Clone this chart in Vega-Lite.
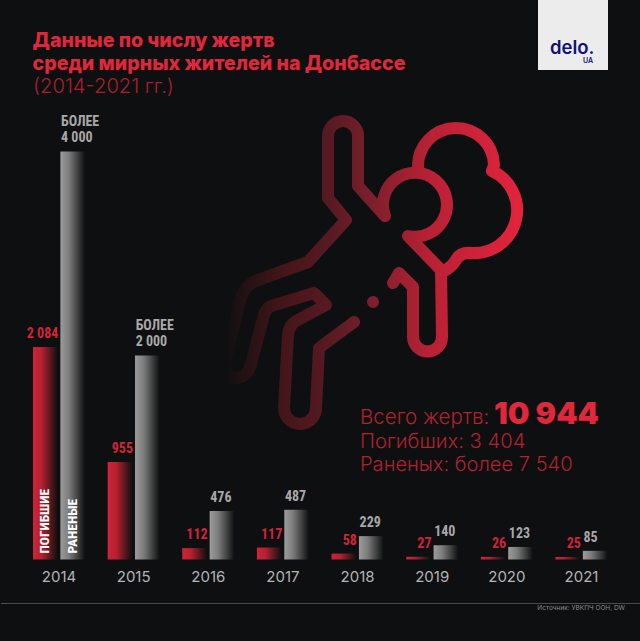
{
  "$schema": "https://vega.github.io/schema/vega-lite/v6.json",
  "width": 640,
  "height": 641,
  "padding": 0,
  "autosize": {"type": "fit", "contains": "padding"},
  "background": "#0e0f10",
  "view": {"stroke": null},
  "data": {"name": "main", "values": [
    {"year": "2014", "kind": "Погибшие", "value": 2084, "label": "2 084", "inside": "ПОГИБШИЕ"},
    {"year": "2014", "kind": "Раненые", "value": 4000, "label": "4 000", "more": "БОЛЕЕ", "inside": "РАНЕНЫЕ"},
    {"year": "2015", "kind": "Погибшие", "value": 955, "label": "955"},
    {"year": "2015", "kind": "Раненые", "value": 2000, "label": "2 000", "more": "БОЛЕЕ"},
    {"year": "2016", "kind": "Погибшие", "value": 112, "label": "112"},
    {"year": "2016", "kind": "Раненые", "value": 476, "label": "476"},
    {"year": "2017", "kind": "Погибшие", "value": 117, "label": "117"},
    {"year": "2017", "kind": "Раненые", "value": 487, "label": "487"},
    {"year": "2018", "kind": "Погибшие", "value": 58, "label": "58"},
    {"year": "2018", "kind": "Раненые", "value": 229, "label": "229"},
    {"year": "2019", "kind": "Погибшие", "value": 27, "label": "27"},
    {"year": "2019", "kind": "Раненые", "value": 140, "label": "140"},
    {"year": "2020", "kind": "Погибшие", "value": 26, "label": "26"},
    {"year": "2020", "kind": "Раненые", "value": 123, "label": "123"},
    {"year": "2021", "kind": "Погибшие", "value": 25, "label": "25"},
    {"year": "2021", "kind": "Раненые", "value": 85, "label": "85"}
  ]},
  "encoding": {
    "x": {"field": "year", "type": "nominal", "sort": null,
      "scale": {"range": [32, 606.5], "paddingInner": 0.303, "paddingOuter": 0},
      "axis": {"title": null, "orient": "bottom", "offset": -72, "ticks": false, "domain": false, "labelAngle": 0, "labelColor": "#b4b4b4", "labelFont": "Inter", "labelFontSize": 15, "labelPadding": 0, "grid": false}},
    "y": {"field": "value", "type": "quantitative",
      "scale": {"domain": [-799, 5485], "nice": false, "zero": false},
      "axis": null},
    "xOffset": {"field": "kind", "type": "nominal", "scale": {"domain": ["Погибшие", "Раненые"], "paddingInner": 0.1, "paddingOuter": 0}}
  },
  "layer": [
    {"transform": [{"filter": "datum.kind === 'Погибшие'"}],
     "mark": {"type": "bar", "color": {"gradient": "linear", "x1": 0, "x2": 1, "y1": 0, "y2": 0, "stops": [{"offset": 0, "color": "#cf2338"}, {"offset": 0.35, "color": "#b5212f"}, {"offset": 1, "color": "#0e0f10"}]}}},
    {"transform": [{"filter": "datum.kind === 'Раненые'"}],
     "mark": {"type": "bar", "color": {"gradient": "linear", "x1": 0, "x2": 1, "y1": 0, "y2": 0, "stops": [{"offset": 0, "color": "#9c9c9c"}, {"offset": 0.35, "color": "#7c7c7c"}, {"offset": 1, "color": "#0e0f10"}]}}},
    {"transform": [{"filter": "datum.kind === 'Погибшие'"}],
     "mark": {"type": "text", "align": "right", "baseline": "bottom", "dx": 13, "dy": -6, "font": "Roboto Condensed, Liberation Sans", "fontWeight": "bold", "fontSize": 14, "color": "#d3243a"},
     "encoding": {"text": {"field": "label"}}},
    {"transform": [{"filter": "datum.kind === 'Раненые'"}],
     "mark": {"type": "text", "align": "left", "baseline": "bottom", "dx": -11.7, "dy": -6, "font": "Roboto Condensed, Liberation Sans", "fontWeight": "bold", "fontSize": 14, "color": "#a8a8a8"},
     "encoding": {"text": {"field": "label"}}},
    {"transform": [{"filter": "isValid(datum.more)"}],
     "mark": {"type": "text", "align": "left", "baseline": "bottom", "dx": -11.7, "dy": -22, "font": "Roboto Condensed, Liberation Sans", "fontWeight": "bold", "fontSize": 14, "color": "#a8a8a8"},
     "encoding": {"text": {"field": "more"}}},
    {"transform": [{"filter": "isValid(datum.inside)"}],
     "mark": {"type": "text", "angle": 270, "align": "left", "baseline": "middle", "dx": 6, "font": "Roboto Condensed, Liberation Sans", "fontWeight": "bold", "fontSize": 13.5, "color": "#ffffff"},
     "encoding": {"text": {"field": "inside"}, "y": {"datum": 0}}},
    {"data": {"values": [{"name": "Контур тела"}]},
     "encoding": {"x": {"value": 0}, "y": {"value": 0}, "xOffset": null},
     "mark": {"type": "point", "opacity": 1, "size": 4, "filled": false, "strokeWidth": 12, "strokeCap": "round", "strokeJoin": "round",
       "shape": "M384 216 L357 186 L357 136 A15 15 0 0 0 327 136 L327 198 L345 220 L307 262 L257 280 Q245 284 240 297 L225 358 C222 372 230 378 235 378 C243 378 248 372 250 364 L263 315 Q265 308 270 306 L313 293 L325 305 L295 321 Q288 325 287 335 L283 408 A16 16 0 0 0 315 408 L318 348 L353 322 M384 216 A32 32 0 1 1 407 236 L440 270 L441 337 A14.5 14.5 0 0 1 412 337 L412 287 L398 273 L392 283 M417 167 A38 38 0 1 1 493 165 L491 171 A43 43 0 0 1 470 253 Q459 252 455 260 Q450 268 441 272 M372 302 L372.01 302",
       "stroke": {"gradient": "linear", "x1": 0, "y1": 0, "x2": 1, "y2": 0, "stops": [{"offset": 0, "color": "#0e0f10"}, {"offset": 0.05, "color": "#1e1113"}, {"offset": 0.2, "color": "#441619"}, {"offset": 0.36, "color": "#581a22"}, {"offset": 0.47, "color": "#741e2a"}, {"offset": 0.7, "color": "#b82135"}, {"offset": 1, "color": "#e0243c"}]}}},
    {"data": {"values": [{"t": "Данные по числу жертв"}]},
     "encoding": {"x": {"value": 31.5}, "y": {"value": 41}, "xOffset": null, "text": {"field": "t"}},
     "mark": {"type": "text", "align": "left", "baseline": "middle", "font": "Inter", "fontWeight": 800, "fontSize": 19.6, "color": "#e0273c"}},
    {"data": {"values": [{"t": "среди мирных жителей на Донбассе"}]},
     "encoding": {"x": {"value": 31.5}, "y": {"value": 64}, "xOffset": null, "text": {"field": "t"}},
     "mark": {"type": "text", "align": "left", "baseline": "middle", "font": "Inter", "fontWeight": 800, "fontSize": 19.6, "color": "#e0273c"}},
    {"data": {"values": [{"t": "(2014-2021 гг.)"}]},
     "encoding": {"x": {"value": 32}, "y": {"value": 87}, "xOffset": null, "text": {"field": "t"}},
     "mark": {"type": "text", "align": "left", "baseline": "middle", "font": "Inter", "fontWeight": 300, "fontSize": 20.2, "color": "#a8202f"}},
    {"data": {"values": [{"t": "Всего жертв:"}]},
     "encoding": {"x": {"value": 359}, "y": {"value": 418}, "xOffset": null, "text": {"field": "t"}},
     "mark": {"type": "text", "align": "left", "baseline": "middle", "font": "Inter", "fontWeight": 300, "fontSize": 20.5, "color": "#b02230"}},
    {"data": {"values": [{"t": "10 944"}]},
     "encoding": {"x": {"value": 493}, "y": {"value": 414.5}, "xOffset": null, "text": {"field": "t"}},
     "mark": {"type": "text", "align": "left", "baseline": "middle", "font": "Inter", "fontWeight": 900, "fontSize": 30.5, "color": "#e0273c"}},
    {"data": {"values": [{"t": "Погибших: 3 404"}]},
     "encoding": {"x": {"value": 359}, "y": {"value": 442}, "xOffset": null, "text": {"field": "t"}},
     "mark": {"type": "text", "align": "left", "baseline": "middle", "font": "Inter", "fontWeight": 300, "fontSize": 20.2, "color": "#b02230"}},
    {"data": {"values": [{"t": "Раненых: более 7 540"}]},
     "encoding": {"x": {"value": 359}, "y": {"value": 465}, "xOffset": null, "text": {"field": "t"}},
     "mark": {"type": "text", "align": "left", "baseline": "middle", "font": "Inter", "fontWeight": 300, "fontSize": 20.1, "color": "#b02230"}},
    {"data": {"values": [{"t": "Источник: УВКПЧ ООН, DW"}]},
     "encoding": {"x": {"value": 624}, "y": {"value": 608}, "xOffset": null, "text": {"field": "t"}},
     "mark": {"type": "text", "align": "right", "baseline": "middle", "font": "Inter", "fontSize": 6.5, "color": "#8a8a8a"}},
    {"data": {"values": [{"n": "footer"}]},
     "encoding": {"x": {"value": 0}, "x2": {"value": 640}, "y": {"value": 603.5}, "xOffset": null},
     "mark": {"type": "rule", "color": "#4a4a4a", "strokeWidth": 1}},
    {"data": {"values": [{"n": "logo"}]},
     "encoding": {"x": {"value": 537}, "x2": {"value": 607}, "y": {"value": 0}, "y2": {"value": 70}, "xOffset": null},
     "mark": {"type": "rect", "color": "#ececec"}},
    {"data": {"values": [{"t": "delo."}]},
     "encoding": {"x": {"value": 549}, "y": {"value": 47.5}, "xOffset": null, "text": {"field": "t"}},
     "mark": {"type": "text", "align": "left", "baseline": "middle", "font": "Inter", "fontWeight": 600, "fontSize": 18.5, "color": "#10107a"}},
    {"data": {"values": [{"t": "UA"}]},
     "encoding": {"x": {"value": 582}, "y": {"value": 61}, "xOffset": null, "text": {"field": "t"}},
     "mark": {"type": "text", "align": "left", "baseline": "middle", "font": "Inter", "fontWeight": 600, "fontSize": 7, "color": "#10107a"}}
  ]
}
